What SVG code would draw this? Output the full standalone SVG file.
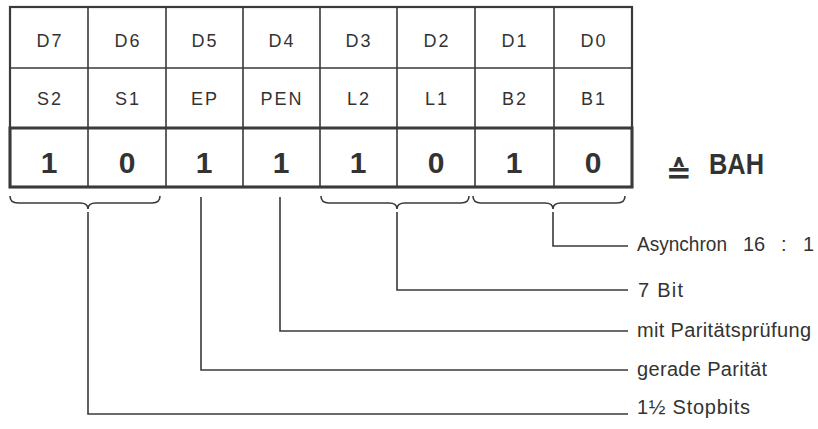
<svg xmlns="http://www.w3.org/2000/svg" width="818" height="429" viewBox="0 0 818 429">
<style>
.ln{fill:none;stroke:#3a3a3a;stroke-width:1.6;stroke-linecap:square}
.thk{fill:none;stroke:#3a3a3a;stroke-width:3}
.cn{fill:none;stroke:#3a3a3a;stroke-width:1.6}
.hd{font-family:"Liberation Sans",Arial,sans-serif;font-size:18px;fill:#333;text-anchor:middle;letter-spacing:2px}
.val{font-family:"Liberation Sans",Arial,sans-serif;font-size:30px;font-weight:bold;fill:#333;text-anchor:middle}
.lb{font-family:"Liberation Sans",Arial,sans-serif;font-size:20px;fill:#333}
</style>
<rect width="818" height="429" fill="#fff"/>
<g id="table">
<rect class="ln" x="10" y="7" width="622" height="180" style="stroke-width:2.2"/>
<path class="ln" d="M10,68H632M88,7V187M166,7V187M243,7V187M320,7V187M397,7V187M475,7V187M554,7V187"/>
<rect class="thk" x="10" y="128" width="622" height="59"/>
</g>
<g id="row-bits">
<text class="hd" x="50" y="47">D7</text>
<text class="hd" x="128" y="47">D6</text>
<text class="hd" x="205" y="47">D5</text>
<text class="hd" x="282" y="47">D4</text>
<text class="hd" x="359" y="47">D3</text>
<text class="hd" x="437" y="47">D2</text>
<text class="hd" x="515" y="47">D1</text>
<text class="hd" x="594" y="47">D0</text>
</g>
<g id="row-names">
<text class="hd" x="50" y="105">S2</text>
<text class="hd" x="128" y="105">S1</text>
<text class="hd" x="205" y="105">EP</text>
<text class="hd" x="282" y="105">PEN</text>
<text class="hd" x="359" y="105">L2</text>
<text class="hd" x="437" y="105">L1</text>
<text class="hd" x="515" y="105">B2</text>
<text class="hd" x="594" y="105">B1</text>
</g>
<g id="row-values">
<text class="val" x="49" y="173">1</text>
<text class="val" x="127" y="173">0</text>
<text class="val" x="204" y="173">1</text>
<text class="val" x="281" y="173">1</text>
<text class="val" x="358" y="173">1</text>
<text class="val" x="436" y="173">0</text>
<text class="val" x="514" y="173">1</text>
<text class="val" x="593" y="173">0</text>
</g>
<g id="result">
<text x="666" y="183" style="font-family:'DejaVu Sans',sans-serif;font-size:31px;font-weight:bold;fill:#333">≙</text>
<text x="709" y="174" textLength="55" lengthAdjust="spacingAndGlyphs" style="font-family:'Liberation Sans',Arial,sans-serif;font-size:30px;font-weight:bold;fill:#333">BAH</text>
</g>
<g id="braces">
<path class="cn" d="M10,196Q10,203 18,203H80Q88,203 88,209Q88,203 96,203H152Q160,203 160,196"/>
<path class="cn" d="M321,196Q321,203 329,203H389Q397,203 397,209Q397,203 405,203H461Q469,203 469,196"/>
<path class="cn" d="M473,196Q473,203 481,203H545Q553,203 553,209Q553,203 561,203H617Q625,203 625,196"/>
</g>
<g id="connectors">
<path class="cn" d="M88,212V414H628"/>
<path class="cn" d="M201,197V370H628"/>
<path class="cn" d="M280,197V331H628"/>
<path class="cn" d="M397,212V290H628"/>
<path class="cn" d="M553,212V246H628"/>
</g>
<g id="labels">
<text class="lb" y="251"><tspan x="637" textLength="90" lengthAdjust="spacingAndGlyphs">Asynchron</tspan><tspan x="743">16</tspan><tspan x="781">:</tspan><tspan x="803">1</tspan></text>
<text class="lb" x="638" y="297" textLength="45" lengthAdjust="spacing">7 Bit</text>
<text class="lb" x="637" y="337" textLength="174" lengthAdjust="spacing">mit Paritätsprüfung</text>
<text class="lb" x="637" y="376" textLength="130" lengthAdjust="spacing">gerade Parität</text>
<text class="lb" x="637" y="414" textLength="113" lengthAdjust="spacing">1½ Stopbits</text>
</g>
</svg>
